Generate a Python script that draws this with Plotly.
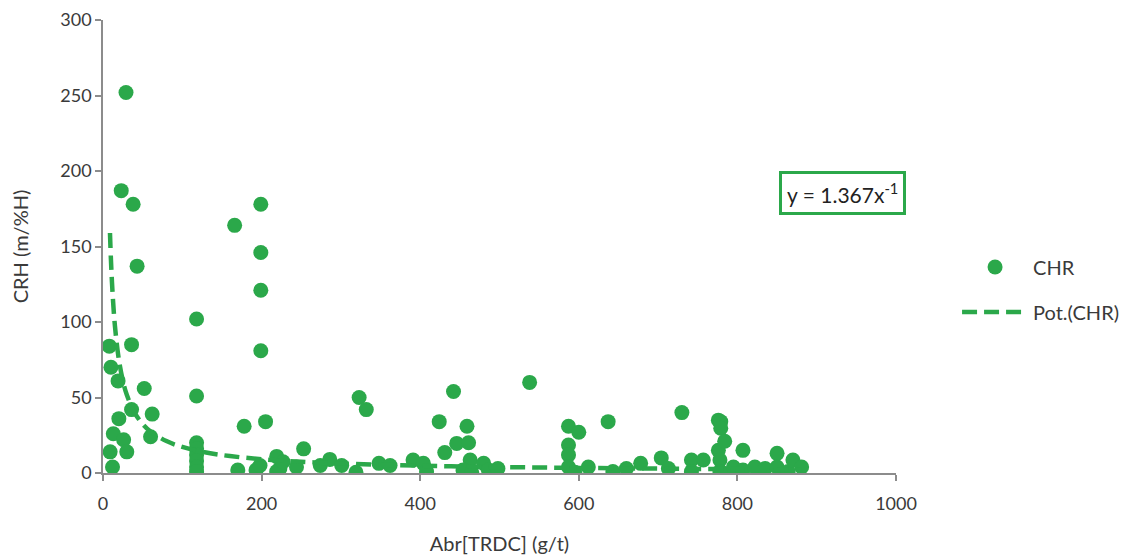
import numpy as np
import plotly.graph_objects as go

# ---- data ----
chr_x = [29, 23, 38, 43, 8, 36, 10, 19, 52, 62, 36, 20, 13, 26, 60, 9, 30, 12,
         118, 118, 118, 118, 118, 118, 118, 118,
         166, 170, 178, 193, 199, 199, 199, 199, 198, 205,
         219, 219, 223, 227, 244, 253, 274, 286, 301, 319, 323, 332, 348, 362,
         391, 404, 408, 424, 431, 442, 446, 461, 459, 463, 454, 465, 480, 486, 498, 538,
         587, 600, 587, 587, 587, 595, 612, 637, 643, 660, 678, 704, 713, 730, 742, 742, 757,
         776, 776, 779, 779, 784, 778, 778, 780, 795, 807, 807, 822, 835, 850, 850, 864, 870, 881]
chr_y = [252, 187, 178, 137, 84, 85, 70, 61, 56, 39, 42, 36, 26, 22, 24, 14, 14, 4,
         102, 51, 20, 16, 12, 8, 4, 1,
         164, 2, 31, 2, 178, 146, 121, 81, 5, 34,
         11, 1, 3, 7.5, 4, 16, 5, 9, 5, 0.5, 50, 42, 6.4, 5,
         8.6, 6.4, 1, 34, 13.5, 54, 19.6, 20, 31, 8.6, 2, 0.5, 6.4, 2, 3, 60,
         31, 27, 18.5, 12, 4, 0.5, 4, 34, 1, 3, 6.4, 10, 3, 40, 8.6, 1, 8.6,
         35, 15, 34, 29.6, 21, 8.6, 1, 0.5, 4, 15, 2, 4, 3, 13, 4, 1, 8.6, 4]

# power trend line (as drawn in the reference): y = a * x^b
trend_a = 1160.0
trend_b = -0.914
trend_x = [8.8, 10, 12, 15, 20, 25, 30, 40, 50, 60, 80, 100, 130, 160, 200, 250,
           300, 400, 500, 600, 700, 800, 881]
equation_text = "y = 1.367x<sup>-1</sup>"

GREEN = "#2BA84A"
AXIS = "#8C8C8C"
TXT = "#3A3A3A"
FONT = "Lato"

trend_y = [trend_a * xv ** trend_b for xv in trend_x]

fig = go.Figure()
fig.add_trace(go.Scatter(
    x=chr_x, y=chr_y, mode="markers", name="CHR", legendgroup="a",
    marker=dict(color=GREEN, size=15, line=dict(width=0)),
))
fig.add_trace(go.Scatter(
    x=trend_x, y=trend_y, mode="lines", name="Pot.(CHR)", legendgroup="b",
    line=dict(color=GREEN, width=4.5, dash="15px,7px", shape="spline"),
))

fig.add_annotation(
    x=0.933, y=0.618, xref="paper", yref="paper", text=equation_text,
    xanchor="center", yanchor="middle",
    showarrow=False, font=dict(family=FONT, size=21, color="#222"),
    bordercolor=GREEN, borderwidth=3, borderpad=5, bgcolor="white",
)

fig.update_layout(
    width=1136, height=548,
    margin=dict(l=95, r=248, t=12, b=83, autoexpand=False),
    paper_bgcolor="white", plot_bgcolor="white",
    font=dict(family=FONT, size=18, color=TXT),
    showlegend=True,
    legend=dict(x=1.077, y=0.405, xanchor="left", yanchor="middle",
                itemwidth=66, tracegroupgap=16,
                font=dict(family=FONT, size=20, color=TXT),
                bgcolor="rgba(0,0,0,0)"),
    xaxis=dict(range=[0, 1000], tickvals=[0, 200, 400, 600, 800, 1000], automargin=False,
               showgrid=False, zeroline=False, showline=True, linecolor=AXIS, linewidth=1.5,
               ticks="outside", ticklen=6, tickcolor=AXIS, tickwidth=1.5,
               ticklabelstandoff=8,
               tickfont=dict(family=FONT, size=18, color=TXT),
               title=dict(text="Abr[TRDC] (g/t)", font=dict(family=FONT, size=20, color=TXT), standoff=24)),
    yaxis=dict(range=[0, 300], tickvals=[0, 50, 100, 150, 200, 250, 300], automargin=False,
               showgrid=False, zeroline=False, showline=True, linecolor=AXIS, linewidth=1.5,
               ticks="outside", ticklen=6, tickcolor=AXIS, tickwidth=1.5,
               tickfont=dict(family=FONT, size=18, color=TXT),
               title=dict(text="CRH (m/%H)", font=dict(family=FONT, size=20, color=TXT), standoff=29)),
)

fig.write_html("out.html")
